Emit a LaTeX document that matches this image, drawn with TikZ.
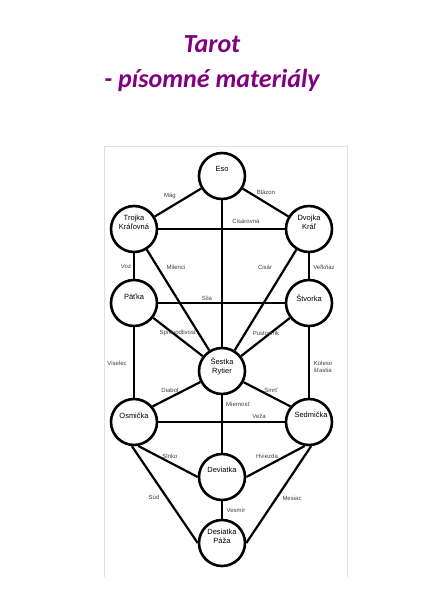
\documentclass[tikz,border=0pt]{standalone}
\usepackage{fontspec}
\setmainfont{Liberation Sans}
\newfontfamily\titlefont{Carlito}
\definecolor{tpurple}{RGB}{128,0,128}
\begin{document}
\begin{tikzpicture}[x=1pt,y=-1pt,
  card/.style={circle, draw, line width=2.6pt, minimum size=46pt, inner sep=0pt},
  cardtext/.style={font=\fontsize{7.5}{9}\selectfont, align=center, inner sep=0pt},
  edge/.style={line width=2.2pt},
  lab/.style={font=\fontsize{6}{7}\selectfont, text=black!75, inner sep=0pt, align=center},
  titletext/.style={font=\titlefont\bfseries\itshape\fontsize{26}{30}\selectfont, text=tpurple, inner sep=0pt, anchor=base},
  framepart/.style={draw=black!12, line width=0.8pt}]
\useasboundingbox (0,0) rectangle (424,600);

% title
\node[titletext] (title1) at (212,52) {Tarot};
\node[titletext] (title2) at (212,87) {- písomné materiály};

% frame
\coordinate (f1) at (104,577);
\coordinate (f2) at (104,146);
\coordinate (f3) at (347,146);
\coordinate (f4) at (347,577);
\draw[framepart] (f1) -- (f2) -- (f3) -- (f4);

% cards
\node[card] (eso) at (222,176) {};
\node[card] (trojka) at (134,229) {};
\node[card] (dvojka) at (309,229) {};
\node[card] (patka) at (134,303) {};
\node[card] (stvorka) at (309,303) {};
\node[card] (sestka) at (222,371) {};
\node[card] (osmicka) at (134,422) {};
\node[card] (sedmicka) at (309,422) {};
\node[card] (deviatka) at (222,477) {};
\node[card] (desiatka) at (222,543) {};

% edges
\draw[edge] (eso) -- (trojka);
\draw[edge] (eso) -- (dvojka);
\draw[edge] (eso) -- (sestka);
\draw[edge] (trojka) -- (dvojka);
\draw[edge] (trojka) -- (patka);
\draw[edge] (trojka) -- (sestka);
\draw[edge] (dvojka) -- (sestka);
\draw[edge] (dvojka) -- (stvorka);
\draw[edge] (patka) -- (stvorka);
\draw[edge] (patka) -- (sestka);
\draw[edge] (stvorka) -- (sestka);
\draw[edge] (patka) -- (osmicka);
\draw[edge] (stvorka) -- (sedmicka);
\draw[edge] (sestka) -- (osmicka.40);
\draw[edge] (sestka) -- (sedmicka.140);
\draw[edge] (sestka) -- (deviatka);
\draw[edge] (osmicka) -- (sedmicka);
\draw[edge] (osmicka.-80) -- (deviatka.west);
\draw[edge] (sedmicka.-100) -- (deviatka.east);
\draw[edge] (osmicka.-95) -- (desiatka.west);
\draw[edge] (sedmicka.-85) -- (desiatka.east);
\draw[edge] (deviatka) -- (desiatka);

% card texts
\node[cardtext] (t-eso) at (222,169) {Eso};
\node[cardtext] (t-trojka) at (134,222) {Trojka\\Kráľovná};
\node[cardtext] (t-dvojka) at (309,222) {Dvojka\\Kráľ};
\node[cardtext] (t-patka) at (134,297) {Päťka};
\node[cardtext] (t-stvorka) at (309,298) {Štvorka};
\node[cardtext] (t-sestka) at (222,366) {Šestka\\Rytier};
\node[cardtext] (t-osmicka) at (134,416) {Osmička};
\node[cardtext] (t-sedmicka) at (311,415) {Sedmička};
\node[cardtext] (t-deviatka) at (222,470) {Deviatka};
\node[cardtext] (t-desiatka) at (222,536) {Desiatka\\Páža};

% edge labels
\node[lab] (l-mag) at (170,196) {Mág};
\node[lab] (l-blazon) at (266,192) {Blázon};
\node[lab] (l-cisarovna) at (246,221) {Cisárovná};
\node[lab] (l-voz) at (126,266) {Voz};
\node[lab] (l-milenci) at (176,267) {Milenci};
\node[lab] (l-cisar) at (265,267) {Cisár};
\node[lab] (l-velknaz) at (324,267) {Veľkňaz};
\node[lab] (l-sila) at (207,298) {Sila};
\node[lab] (l-sprav) at (178,333) {Spravodlivosť};
\node[lab] (l-pust) at (266,333) {Pustovník};
\node[lab] (l-viselec) at (117,363) {Viselec};
\node[lab, align=left] (l-koleso) at (323,367) {Koleso\\šťastia};
\node[lab] (l-diabol) at (170,390) {Diabol};
\node[lab] (l-smrt) at (271,390) {Smrť};
\node[lab] (l-mier) at (238,404) {Miernosť};
\node[lab] (l-veza) at (259,416) {Veža};
\node[lab] (l-slnko) at (170,456) {Slnko};
\node[lab] (l-hviezda) at (267,456) {Hviezda};
\node[lab] (l-sud) at (154,497) {Súd};
\node[lab] (l-mesiac) at (292,498) {Mesiac};
\node[lab] (l-vesmir) at (236,510) {Vesmír};
\end{tikzpicture}
\end{document}
